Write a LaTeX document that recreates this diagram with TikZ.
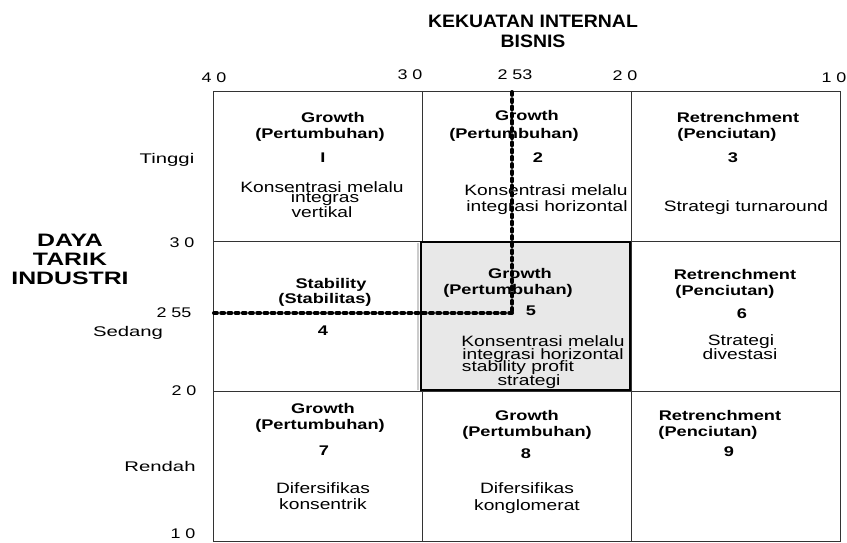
\documentclass[tikz,border=0pt]{standalone}
\usepackage{fontspec}
\setmainfont{Liberation Sans}
\newcommand{\W}[1]{\scalebox{1.28}[1]{#1}}
\newcommand{\WB}[1]{\scalebox{1.3}[1]{#1}}
\newcommand{\WL}[1]{\scalebox{1.45}[1]{#1}}
\definecolor{gridc}{HTML}{333333}
\definecolor{shade}{HTML}{E8E8E8}
\tikzset{
  x=0.75pt, y=-0.75pt,
  body/.style={font=\fontsize{11.25}{13}\selectfont, inner sep=0pt, anchor=base},
  ttl/.style={font=\fontsize{10.5}{12}\selectfont\bfseries, inner sep=0pt, anchor=base},
  num/.style={font=\fontsize{10.5}{12}\selectfont, inner sep=0pt, anchor=base},
  head/.style={font=\fontsize{13.5}{15}\selectfont\bfseries, inner sep=0pt, anchor=base},
  gridline/.style={draw=gridc, line width=0.75pt},
  dots/.style={line width=3pt, dash pattern=on 2.2pt off 3.2pt, line cap=round}
}
\begin{document}
\begin{tikzpicture}
\useasboundingbox (0,0) rectangle (847,543);
% grid
\coordinate (TL) at (213,91);
\coordinate (BR) at (840,541);
\draw[gridline] (TL) rectangle (BR);
\coordinate (c1t) at (422,91); \coordinate (c1b) at (422,541);
\coordinate (c2t) at (631,91); \coordinate (c2b) at (631,541);
\coordinate (r1l) at (213,241); \coordinate (r1r) at (840,241);
\coordinate (r2l) at (213,391); \coordinate (r2r) at (840,391);
\draw[gridline] (c1t) -- (c1b);
\draw[gridline] (c2t) -- (c2b);
\draw[gridline] (r1l) -- (r1r);
\draw[gridline] (r2l) -- (r2r);
% shaded cell 5
\coordinate (s1) at (418,243); \coordinate (s2) at (418,390);
\draw[draw=gray!40, line width=1.5pt] (s1) -- (s2);
\draw[fill=shade, draw=black, line width=1.1pt] (421,242) rectangle (630,390);

% dotted position lines
\coordinate (vtop) at (512,92);
\coordinate (pt) at (512,313);
\coordinate (hleft) at (214,313);
\draw[dots] (vtop) -- (pt);
\draw[dots] (hleft) -- (pt);

% headings
\node[head] (h1) at (533,27) {\scalebox{1.08}[1]{KEKUATAN INTERNAL}};
\node[head] (h2) at (533,47) {\scalebox{1.08}[1]{BISNIS}};
\node[head] (v1) at (70,246) {\scalebox{1.38}[1]{DAYA}};
\node[head] (v2) at (70,265) {\scalebox{1.38}[1]{TARIK}};
\node[head] (v3) at (70,284) {\scalebox{1.38}[1]{INDUSTRI}};

% top scale
\node[num] (t40) at (214,82) {\W{4 0}};
\node[num] (t30) at (410,79) {\W{3 0}};
\node[num] (t253) at (515,79) {\W{2 53}};
\node[num] (t20) at (625,80) {\W{2 0}};
\node[num] (t10) at (834,82) {\W{1 0}};
% left scale
\node[num] (l30) at (182,247) {\W{3 0}};
\node[num] (l255) at (174,317) {\W{2 55}};
\node[num] (l20) at (184,395) {\W{2 0}};
\node[num] (l10) at (183,538) {\W{1 0}};
\node[num] (tinggi) at (167,163) {\WL{Tinggi}};
\node[num] (sedang) at (128,336) {\WL{Sedang}};
\node[num] (rendah) at (160,471) {\WL{Rendah}};

% cell 1
\node[ttl] (a1) at (333,122) {\WB{Growth}};
\node[ttl] (a2) at (320,138) {\WB{(Pertumbuhan)}};
\node[ttl] (a3) at (323,162) {\WB{I}};
\node[body] (a4) at (322,192) {\W{Konsentrasi melalu}};
\node[body] (a5) at (325,202) {\W{integras}};
\node[body] (a6) at (322,217) {\W{vertikal}};
% cell 2
\node[ttl] (b1) at (527,120) {\WB{Growth}};
\node[ttl] (b2) at (514,138) {\WB{(Pertumbuhan)}};
\node[ttl] (b3) at (538,162) {\WB{2}};
\node[body] (b4) at (546,195) {\W{Konsentrasi melalu}};
\node[body] (b5) at (547,211) {\W{integrasi horizontal}};
% cell 3
\node[ttl] (k1) at (738,122) {\WB{Retrenchment}};
\node[ttl] (k2) at (727,138) {\WB{(Penciutan)}};
\node[ttl] (k3) at (733,162) {\WB{3}};
\node[body] (k4) at (746,211) {\W{Strategi turnaround}};
% cell 4
\node[ttl] (d1) at (331,288) {\WB{Stability}};
\node[ttl] (d2) at (325,303) {\WB{(Stabilitas)}};
\node[ttl] (d3) at (323,335) {\WB{4}};
% cell 5
\node[ttl] (e1) at (520,278) {\WB{Growth}};
\node[ttl] (e2) at (508,294) {\WB{(Pertumbuhan)}};
\node[ttl] (e3) at (531,315) {\WB{5}};
\node[body] (e4) at (543,346) {\W{Konsentrasi melalu}};
\node[body] (e5) at (543,359) {\W{integrasi horizontal}};
\node[body] (e6) at (518,371) {\W{stability profit}};
\node[body] (e7) at (529,385) {\W{strategi}};
% cell 6
\node[ttl] (f1) at (735,279) {\WB{Retrenchment}};
\node[ttl] (f2) at (725,295) {\WB{(Penciutan)}};
\node[ttl] (f3) at (742,318) {\WB{6}};
\node[body] (f4) at (741,345) {\W{Strategi}};
\node[body] (f5) at (740,359) {\W{divestasi}};
% cell 7
\node[ttl] (g1) at (323,413) {\WB{Growth}};
\node[ttl] (g2) at (320,429) {\WB{(Pertumbuhan)}};
\node[ttl] (g3) at (324,455) {\WB{7}};
\node[body] (g4) at (323,493) {\W{Difersifikas}};
\node[body] (g5) at (323,509) {\W{konsentrik}};
% cell 8
\node[ttl] (m1) at (527,420) {\WB{Growth}};
\node[ttl] (m2) at (527,436) {\WB{(Pertumbuhan)}};
\node[ttl] (m3) at (526,458) {\WB{8}};
\node[body] (m4) at (527,493) {\W{Difersifikas}};
\node[body] (m5) at (527,510) {\W{konglomerat}};
% cell 9
\node[ttl] (n1) at (720,420) {\WB{Retrenchment}};
\node[ttl] (n2) at (708,436) {\WB{(Penciutan)}};
\node[ttl] (n3) at (729,456) {\WB{9}};
\end{tikzpicture}
\end{document}
